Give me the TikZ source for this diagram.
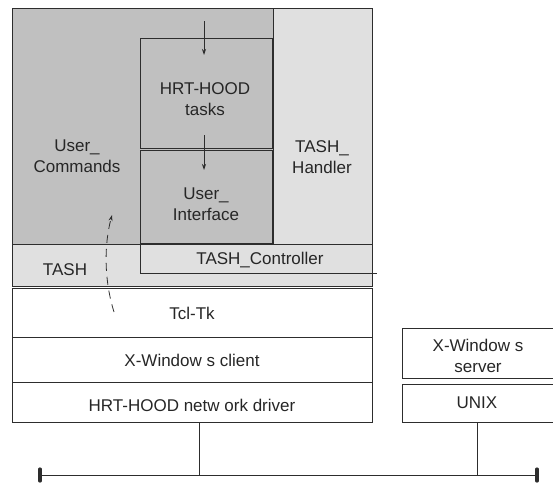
\documentclass[tikz,border=0pt]{standalone}
\usepackage{fontspec}
\setmainfont{Liberation Sans}
\usetikzlibrary{arrows.meta}
\definecolor{darkfill}{RGB}{192,192,192}
\definecolor{lightfill}{RGB}{224,224,224}
\definecolor{edge}{RGB}{45,45,45}
\begin{document}
\begin{tikzpicture}[x=1pt,y=-1pt,
  box/.style={draw=edge,line width=0.9pt,rectangle,inner sep=0pt,anchor=north west},
  lbl/.style={inner sep=0pt,align=center,font=\fontsize{17}{21}\selectfont,text=black!85},
  conn/.style={draw=edge,line width=0.8pt},
  flow/.style={conn,-{Stealth[length=6pt,width=4pt]}}]
\useasboundingbox (0,0) rectangle (553,483);

% upper block: application layer
\node[box,fill=darkfill,minimum width=261pt,minimum height=236pt] (cmd) at (12,8) {};
\node[box,fill=lightfill,minimum width=99pt,minimum height=236pt] (handler) at (273,8) {};
\node[box,fill=darkfill,line width=1.1pt,minimum width=132pt,minimum height=110pt] (tasks) at (140,38) {};
\node[box,fill=darkfill,line width=1.1pt,minimum width=132pt,minimum height=93pt] (ui) at (140,150) {};
\node[box,fill=lightfill,minimum width=360pt,minimum height=42pt] (tash) at (12,244) {};
\coordinate (ctrlA) at (140,244);
\coordinate (ctrlB) at (140,273);
\coordinate (ctrlC) at (377,273);
\draw[conn] (ctrlA) -- (ctrlB) -- (ctrlC);

\node[lbl] (cmdlbl) at (77,156) {User\_\\Commands};
\node[lbl] (handlerlbl) at (322,157) {TASH\_\\Handler};
\node[lbl] (taskslbl) at (205,99) {HRT-HOOD\\tasks};
\node[lbl] (uilbl) at (206,204) {User\_\\Interface};
\node[lbl] (tashlbl) at (65,270) {TASH};
\node[lbl] (ctrllbl) at (260,260) {TASH\_Controller};

% lower block: platform layers
\node[box,minimum width=360pt,minimum height=49pt] (tcl) at (12,288) {};
\node[box,minimum width=360pt,minimum height=45pt] (client) at (12,337) {};
\node[box,minimum width=360pt,minimum height=40pt] (driver) at (12,382) {};
\node[lbl] (tcllbl) at (192,313) {Tcl-Tk};
\node[lbl] (clientlbl) at (192,360) {X-Window s client};
\node[lbl] (driverlbl) at (192,405) {HRT-HOOD netw ork driver};

% server side (open to the right)
\coordinate (srvA) at (556,328);
\coordinate (srvB) at (402,328);
\coordinate (srvC) at (402,378);
\coordinate (srvD) at (556,378);
\draw[conn,line width=0.9pt] (srvA) -- (srvB) -- (srvC) -- (srvD);
\coordinate (unixA) at (556,384);
\coordinate (unixB) at (402,384);
\coordinate (unixC) at (402,422);
\coordinate (unixD) at (556,422);
\draw[conn,line width=0.9pt] (unixA) -- (unixB) -- (unixC) -- (unixD);
\node[lbl] (serverlbl) at (478,356) {X-Window s\\server};
\node[lbl] (unixlbl) at (477,403) {UNIX};

% network bus
\coordinate (busL) at (40,475);
\coordinate (busR) at (537,475);
\coordinate (tapL) at (199,475);
\coordinate (tapR) at (477,475);
\coordinate (driverTap) at (199,422);
\coordinate (unixTap) at (477,422);
\draw[conn] (busL) -- (busR);
\draw[conn] (driverTap) -- (tapL);
\draw[conn] (unixTap) -- (tapR);
\draw[edge,line width=3.2pt,line cap=round] ([yshift=-6pt]busL) -- ([yshift=6pt]busL);
\draw[edge,line width=3.2pt,line cap=round] ([yshift=-6pt]busR) -- ([yshift=6pt]busR);

% call flow
\coordinate (inTop) at (204,21);
\coordinate (inTip) at (204,55);
\coordinate (midTop) at (204,135);
\coordinate (midTip) at (204,170);
\draw[flow] (inTop) -- (inTip);
\draw[flow] (midTop) -- (midTip);
\coordinate (cbStart) at (114,312);
\coordinate (cbEnd) at (112,215);
\draw[flow,dash pattern=on 8pt off 6pt] (cbStart) .. controls (104,280) and (104,245) .. (cbEnd);
\end{tikzpicture}
\end{document}
